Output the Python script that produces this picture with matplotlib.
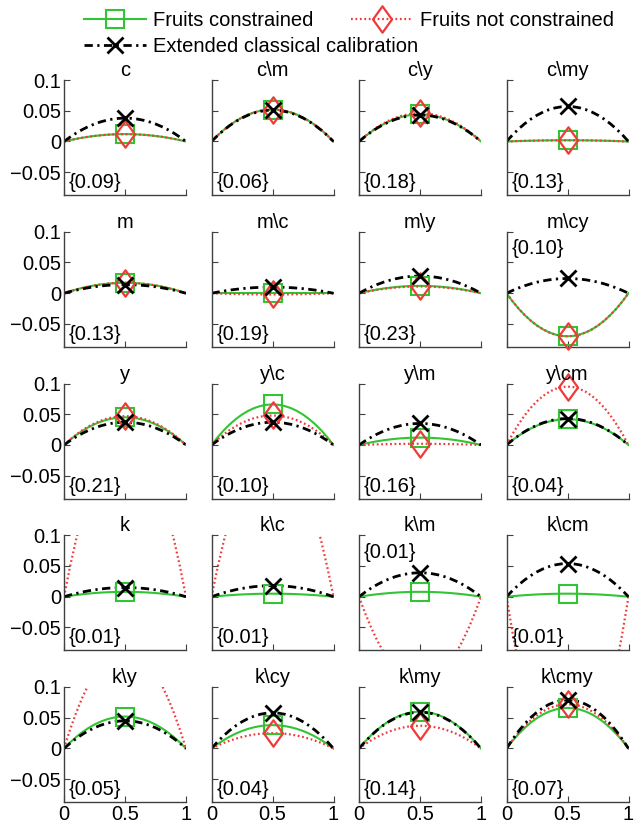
import numpy as np
import matplotlib
matplotlib.use("Agg")
import matplotlib.pyplot as plt
from matplotlib.path import Path
from matplotlib.lines import Line2D

plt.rcParams['font.family'] = ['Liberation Sans', 'DejaVu Sans']

titles = ["c", "c\\m", "c\\y", "c\\my",
          "m", "m\\c", "m\\y", "m\\cy",
          "y", "y\\c", "y\\m", "y\\cm",
          "k", "k\\c", "k\\m", "k\\cm",
          "k\\y", "k\\cy", "k\\my", "k\\cmy"]
notes = ["{0.09}", "{0.06}", "{0.18}", "{0.13}",
         "{0.13}", "{0.19}", "{0.23}", "{0.10}",
         "{0.21}", "{0.10}", "{0.16}", "{0.04}",
         "{0.01}", "{0.01}", "{0.01}", "{0.01}",
         "{0.05}", "{0.04}", "{0.14}", "{0.07}"]
notes_on_top = ["m\\cy", "k\\m"]

# value of each curve at x = 0.5 (curves vanish at 0 and 1)
constrained = [0.012, 0.052, 0.044, 0.002,
               0.017, 0.000, 0.012, -0.070,
               0.045, 0.066, 0.012, 0.042,
               0.008, 0.005, 0.008, 0.005,
               0.052, 0.038, 0.060, 0.066]
not_constrained = [0.012, 0.052, 0.046, 0.002,
                   0.017, -0.002, 0.011, -0.070,
                   0.047, 0.048, 0.002, 0.095,
                   0.26, 0.25, -0.14, -0.31,
                   0.162, 0.025, 0.037, 0.072]
classical = [0.038, 0.051, 0.043, 0.057,
             0.014, 0.010, 0.028, 0.024,
             0.037, 0.037, 0.035, 0.043,
             0.015, 0.018, 0.039, 0.054,
             0.045, 0.058, 0.059, 0.079]

yticks = [-0.05, 0, 0.05, 0.1]
ytick_labels = ["\u22120.05", "0", "0.05", "0.1"]
xticks = [0, 0.5, 1]
xtick_labels = ["0", "0.5", "1"]

green = "#33c433"
red = "#f03a3a"
diamond = Path([(0, 1), (0.72, 0), (0, -1), (-0.72, 0), (0, 1)],
               [Path.MOVETO, Path.LINETO, Path.LINETO, Path.LINETO, Path.CLOSEPOLY])

styles = [
    dict(color=green, lw=1.5, ls='-', marker='s', ms=12.5, mfc='none', mec=green, mew=1.5),
    dict(color=red, lw=1.6, ls=(0, (0.8, 1.2)), marker=diamond, ms=19, mfc='none', mec=red, mew=1.6),
    dict(color='black', lw=2, ls=(0, (3, 1.6, 0.8, 1.6)), marker='x', ms=11, mec='black', mew=2),
]
series = [constrained, not_constrained, classical]

x = np.linspace(0, 1, 21)
shape = 4 * x * (1 - x)

W, H = 638, 826
fig = plt.figure(figsize=(W / 100, H / 100), dpi=100)

lefts = [64, 211.5, 359, 506.5]
aw, ah = 122, 115
fs = 14.5
ylo, yhi = -0.087, 0.1

for i, name in enumerate(titles):
    r, c = divmod(i, 4)
    top = 80 + 151.75 * r
    ax = fig.add_axes([lefts[c] / W, 1 - (top + ah) / H, aw / W, ah / H])
    for vals, st in zip(series, styles):
        line_st = {k: v for k, v in st.items() if k in ('color', 'lw', 'ls')}
        ax.plot(x, vals[i] * shape, **line_st)
    for vals, st in zip(series, styles):
        if ylo - 0.02 < vals[i] < yhi + 0.02:
            mk_st = {k: v for k, v in st.items() if k not in ('color', 'lw', 'ls')}
            ax.plot([0.5], [vals[i]], ls='none', clip_on=False, zorder=3, **mk_st)
    ax.set_xlim(0, 1)
    ax.set_ylim(ylo, yhi)
    ax.set_xticks(xticks)
    ax.set_yticks(yticks)
    ax.set_xticklabels(xtick_labels if r == 4 else [])
    ax.set_yticklabels(ytick_labels if c == 0 else [])
    ax.tick_params(direction='in', length=4, width=0.8, colors='0.25',
                   labelcolor='black', labelsize=fs, pad=2)
    for s in ['top', 'right']:
        ax.spines[s].set_visible(False)
    for s in ['left', 'bottom']:
        ax.spines[s].set_color('0.25')
        ax.spines[s].set_linewidth(1.0)
    ax.set_title(name, fontsize=fs, pad=-2.5)
    ny = 0.072 if name in notes_on_top else -0.067
    ax.text(0.04, ny, notes[i], fontsize=fs, va='center', ha='left')

handles = [Line2D([0, 1], [0, 0], **st) for st in styles]
leg_kw = dict(loc='center left', frameon=False, fontsize=fs, borderpad=0,
              borderaxespad=0, handlelength=3.1, handletextpad=0.35, numpoints=1)
fig.legend([handles[0]], ["Fruits constrained"], bbox_to_anchor=(84 / W, 1 - 21 / H), **leg_kw)
fig.legend([handles[1]], ["Fruits not constrained"], bbox_to_anchor=(351 / W, 1 - 21 / H), **leg_kw)
fig.legend([handles[2]], ["Extended classical calibration"], bbox_to_anchor=(84 / W, 1 - 47 / H), **leg_kw)

fig.savefig("out.png", dpi=100)
